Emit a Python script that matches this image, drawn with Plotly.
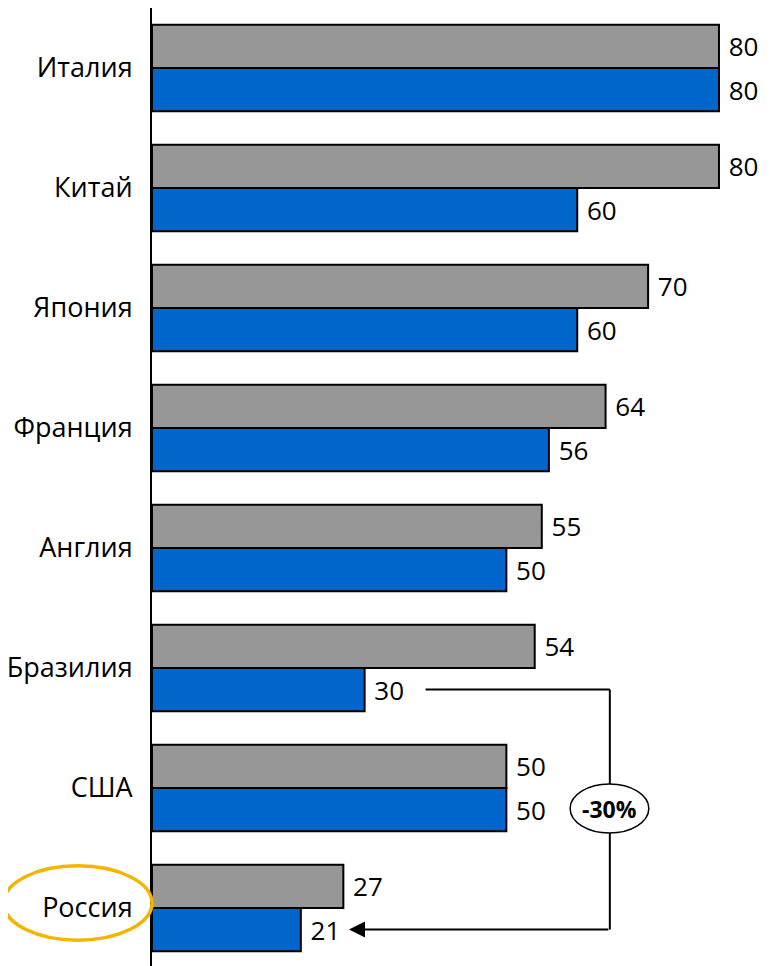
import plotly.graph_objects as go

categories = ["Италия", "Китай", "Япония", "Франция", "Англия", "Бразилия", "США", "Россия"]
gray_values = [80, 80, 70, 64, 55, 54, 50, 27]
blue_values = [80, 60, 60, 56, 50, 30, 50, 21]
change_label = "-30%"

GRAY = "#979797"
BLUE = "#0066CC"
FONT = "Open Sans"

pos = list(range(len(categories)))
BW = 0.36

fig = go.Figure()
fig.add_trace(go.Bar(
    y=pos, x=gray_values, orientation="h", width=BW, offset=-BW,
    marker=dict(color=GRAY, line=dict(color="black", width=2)),
    text=[f" {v}" for v in gray_values], textposition="outside",
    textfont=dict(family=FONT, size=26, color="black"), cliponaxis=False,
    showlegend=False, hoverinfo="skip"))
fig.add_trace(go.Bar(
    y=pos, x=blue_values, orientation="h", width=BW, offset=0,
    marker=dict(color=BLUE, line=dict(color="black", width=2)),
    text=[f" {v}" for v in blue_values], textposition="outside",
    textfont=dict(family=FONT, size=26, color="black"), cliponaxis=False,
    showlegend=False, hoverinfo="skip"))

bi = categories.index("Бразилия")
ri = categories.index("Россия")
yb = bi + BW / 2
yr = ri + BW / 2
xv = 64.6
x_start = blue_values[bi] + 8.6
x_end = blue_values[ri] + 6.8

fig.add_shape(type="line", xref="x", yref="y", x0=x_start, x1=xv, y0=yb, y1=yb,
              line=dict(color="black", width=2))
fig.add_shape(type="line", xref="x", yref="y", x0=xv, x1=xv, y0=yb, y1=yr,
              line=dict(color="black", width=2))
fig.add_annotation(x=x_end, y=yr, ax=xv, ay=yr, xref="x", yref="y", axref="x", ayref="y",
                   text="", showarrow=True, arrowhead=2, arrowsize=1.6, arrowwidth=2,
                   arrowcolor="black")
fig.add_shape(type="circle", xref="x", yref="y", x0=xv - 5.6, x1=xv + 5.5,
              y0=5.967, y1=6.375, line=dict(color="black", width=1.5), fillcolor="white",
              layer="above")
fig.add_annotation(x=xv, y=6.175, xref="x", yref="y", text="<b>" + change_label + "</b>",
                   showarrow=False, font=dict(family=FONT, size=23, color="black"))

# highlight loop around Россия
fig.add_shape(type="circle", xref="paper", yref="paper",
              x0=-0.24, x1=0.0, y0=0.035, y1=0.112,
              line=dict(color="#F5B400", width=3.5))

fig.update_layout(
    width=762, height=966,
    margin=dict(l=144, r=0, t=0, b=0),
    plot_bgcolor="white", paper_bgcolor="white",
    barmode="overlay",
    xaxis=dict(range=[0, 87.2], visible=False, fixedrange=True),
    yaxis=dict(range=[7.55, -0.5], tickmode="array", tickvals=pos, ticktext=categories,
               showline=True, linecolor="black", linewidth=2, showgrid=False, zeroline=False,
               ticks="", ticklabelstandoff=12,
               tickfont=dict(family=FONT, size=27, color="black")),
    font=dict(family=FONT),
)

fig.write_html("out.html")
